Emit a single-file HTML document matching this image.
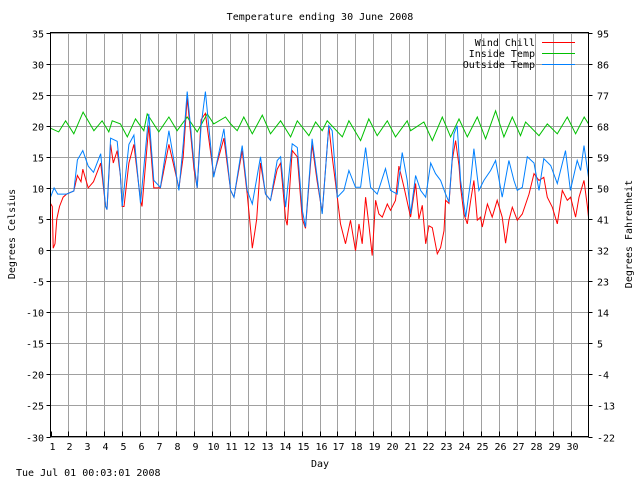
<!DOCTYPE html>
<html><head><meta charset="utf-8"><style>
body{margin:0;background:#fff}
svg text{font-family:"DejaVu Sans Mono","Liberation Mono",monospace;font-size:10px;fill:#000}
</style></head><body>
<svg id="chart" width="640" height="480" xmlns="http://www.w3.org/2000/svg">
<rect width="640" height="480" fill="#fff"/>
<g id="grid"></g>
<g id="series"></g>
<rect x="50.5" y="32.5" width="538" height="404" fill="none" stroke="#000"/>
<g id="axes"></g>
<text x="320" y="20" text-anchor="middle">Temperature ending 30 June 2008</text>
<text x="320" y="467" text-anchor="middle">Day</text>
<text transform="translate(15,234) rotate(-90)" text-anchor="middle">Degrees Celsius</text>
<text transform="translate(632,234) rotate(-90)" text-anchor="middle">Degrees Fahrenheit</text>
<text x="16" y="476">Tue Jul 01 00:03:01 2008</text>
<g>
<text x="535" y="46" text-anchor="end">Wind Chill</text>
<line x1="542" y1="42.5" x2="575" y2="42.5" stroke="#ff0000"/>
<text x="535" y="57" text-anchor="end">Inside Temp</text>
<line x1="542" y1="53.5" x2="575" y2="53.5" stroke="#00c000"/>
<text x="535" y="68" text-anchor="end">Outside Temp</text>
<line x1="542" y1="64.5" x2="575" y2="64.5" stroke="#0080ff"/>
</g>
</svg>
<script>
const celsiusTicks=[35,30,25,20,15,10,5,0,-5,-10,-15,-20,-25,-30];
const fahrenheitTicks=[95,86,77,68,59,50,41,32,23,14,5,-4,-13,-22];
const dayLabels=[1,2,3,4,5,6,7,8,9,10,11,12,13,14,15,16,17,18,19,20,21,22,23,24,25,26,27,28,29,30];
const outsideDays=[1.0,1.2,1.4,1.9,2.3,2.5,2.8,3.1,3.4,3.8,4.07,4.15,4.35,4.72,4.9,5.0,5.37,5.65,6.02,6.48,6.76,7.13,7.6,8.16,8.4,8.62,9.0,9.18,9.4,9.64,10.1,10.67,11.04,11.23,11.69,11.97,12.25,12.71,12.99,13.27,13.64,13.83,14.11,14.48,14.76,15.04,15.22,15.59,15.87,16.15,16.52,16.71,16.99,17.36,17.64,18.01,18.29,18.57,18.85,19.22,19.68,19.96,20.33,20.61,20.89,21.08,21.36,21.64,21.92,22.2,22.47,22.75,23.03,23.22,23.5,23.68,23.87,24.15,24.43,24.61,24.89,25.17,25.54,25.82,26.19,26.56,26.84,27.03,27.31,27.59,27.96,28.24,28.51,28.89,29.26,29.72,29.99,30.37,30.56,30.75,31.0];
const outsideTemp=[8.5,10,9,9,9.5,14.5,16,13.5,12.5,15.5,7,6.5,18,17.5,12,7,17,18.5,7.5,21.9,11.2,10.1,19.2,9.6,17,25.5,14,10,20,25.5,11.7,19.5,9.6,8.5,16.8,9.6,7.4,15,9,8,14.4,15,6.9,17.1,16.5,6.4,3.7,17.9,11.7,5.8,20,19.2,8.5,9.6,12.8,10.1,10.1,16.5,10.1,9,13.1,9.6,9,15.7,11.2,5.8,12,9.6,8.5,14,12.3,11.2,9,7.7,18.7,20,11.2,5.3,11.2,16.3,9.6,11.2,12.8,14.4,8.5,14.4,11.2,9.6,10.1,15,14,9.6,14.7,13.6,10.7,16,9.6,14.4,12.8,16.8,11.7];
const chillDays=[1.0,1.1,1.15,1.25,1.35,1.5,1.7,1.9,2.3,2.5,2.7,2.8,3.1,3.4,3.8,4.07,4.15,4.35,4.5,4.72,4.9,5.0,5.1,5.37,5.65,6.02,6.1,6.48,6.76,7.13,7.6,8.16,8.4,8.62,9.0,9.18,9.4,9.64,10.1,10.67,11.04,11.23,11.69,11.97,12.2,12.25,12.4,12.5,12.71,12.99,13.27,13.64,13.83,14.11,14.2,14.48,14.76,15.04,15.22,15.59,15.87,16.15,16.52,16.71,16.99,17.17,17.45,17.73,18.01,18.2,18.38,18.57,18.75,18.94,19.13,19.31,19.5,19.78,19.96,20.24,20.43,20.71,21.08,21.36,21.54,21.73,21.92,22.1,22.29,22.57,22.75,22.94,23.03,23.22,23.4,23.59,23.78,23.87,24.05,24.24,24.43,24.61,24.8,24.98,25.08,25.36,25.63,25.91,26.19,26.38,26.56,26.75,27.03,27.31,27.68,27.96,28.24,28.51,28.7,28.98,29.26,29.54,29.82,30.0,30.28,30.47,30.75,30.94,31.0];
const windChill=[7.5,7,0.3,1,5,7,8.5,9,9.5,12,11,13,10,11,14,7,6.5,17,14,16,12,7,7,14,17,8,7,20,10,10,17,10,15,24.5,13,10,21,22,12,18,9.6,8.5,16,9,2,0.3,3,5,14,9,8,13,14,5,4,16,15,5,3.5,17,11,6,20,15,8.5,4.2,1,4.8,-0.1,4.2,1,8.5,4.2,-0.9,8,5.8,5.3,7.4,6.4,8,13.5,10.1,5.3,10.7,5,7.2,1,3.9,3.6,-0.6,0.4,3.1,8,7.5,14.4,17.6,13.6,10.1,5.8,4.2,8,11.2,4.8,5.3,3.7,7.4,5.3,8,5.3,1.1,4.8,6.9,4.8,5.8,9,12.3,11.2,11.7,8.5,6.9,4.2,9.6,8,8.5,5.3,8.5,11.2,7,5.3];
const insideDays=[1.0,1.46,1.84,2.3,2.82,3.42,3.88,4.25,4.44,4.9,5.28,5.74,6.2,6.39,7.04,7.6,8.06,8.62,9.18,9.74,10.1,10.76,11.04,11.41,11.78,12.25,12.81,13.27,13.83,14.39,14.76,15.41,15.78,16.15,16.43,17.27,17.64,18.29,18.75,19.22,19.78,20.24,20.89,21.08,21.82,22.29,22.85,23.31,23.78,24.24,24.8,25.26,25.82,26.28,26.75,27.21,27.49,28.24,28.7,29.26,29.82,30.28,30.76,31.0];
const insideTemp=[19.6,19.0,20.8,18.7,22.2,19.2,20.8,19.0,20.8,20.3,18.2,21.1,19.2,21.9,19.0,21.4,19.2,21.4,19.0,21.9,20.3,21.4,20.3,19.2,21.4,18.7,21.7,18.7,20.8,18.2,20.8,18.4,20.6,19.2,20.8,18.2,20.8,17.6,21.1,18.4,20.8,18.2,20.8,19.2,20.6,17.6,21.4,18.2,21.1,18.2,21.4,17.9,22.4,18.2,21.4,18.4,20.6,18.4,20.3,18.7,21.4,18.7,21.4,20.3];

const X0=50.5,X1=588.5,Y0=32.5,Y1=436.5;
const xs=d=>X0+(d-1)*(X1-X0)/30;
const ys=t=>Y1-(t+30)*(Y1-Y0)/65;
const NS='http://www.w3.org/2000/svg';
const grid=document.getElementById('grid'),axes=document.getElementById('axes'),ser=document.getElementById('series');
function mk(tag,attrs,parent){const e=document.createElementNS(NS,tag);for(const k in attrs)e.setAttribute(k,attrs[k]);parent.appendChild(e);return e;}
celsiusTicks.forEach((c,i)=>{
  const y=Math.round(ys(c))+0.5;
  const g=mk('line',{x1:X0,x2:X1,y1:y,y2:y,stroke:'#a0a0a0'},grid);
  
  
  mk('line',{x1:X0-4,x2:X0,y1:y,y2:y,stroke:'#000'},axes);
  mk('line',{x1:X1,x2:X1+4,y1:y,y2:y,stroke:'#000'},axes);
  const t=mk('text',{x:44,y:y+4,'text-anchor':'end'},axes);t.textContent=c;
  
  
  const r=mk('text',{x:597,y:y+4},axes);r.textContent=fahrenheitTicks[i];
  
  
});
dayLabels.forEach(d=>{
  const x=Math.round(xs(d))+0.5;
  if(d>1){const g=mk('line',{x1:x,x2:x,y1:Y0,y2:Y1,stroke:'#a0a0a0'},grid);
  
  }
  mk('line',{x1:x,x2:x,y1:Y1,y2:Y1-5,stroke:'#000'},axes);
  const t=mk('text',{x:x+1,y:450,'text-anchor':'middle'},axes);t.textContent=d;
  
  
});
function line(days,vals,color,name){
  const pts=days.map((d,i)=>xs(d).toFixed(1)+','+ys(vals[i]).toFixed(1)).join(' ');
  const p=mk('polyline',{points:pts,fill:'none',stroke:color,'stroke-width':1},ser);
  
  
}
line(chillDays,windChill,'#ff0000','wind-chill-line');
line(insideDays,insideTemp,'#00c000','inside-temp-line');
line(outsideDays,outsideTemp,'#0080ff','outside-temp-line');
</script>
</body></html>
